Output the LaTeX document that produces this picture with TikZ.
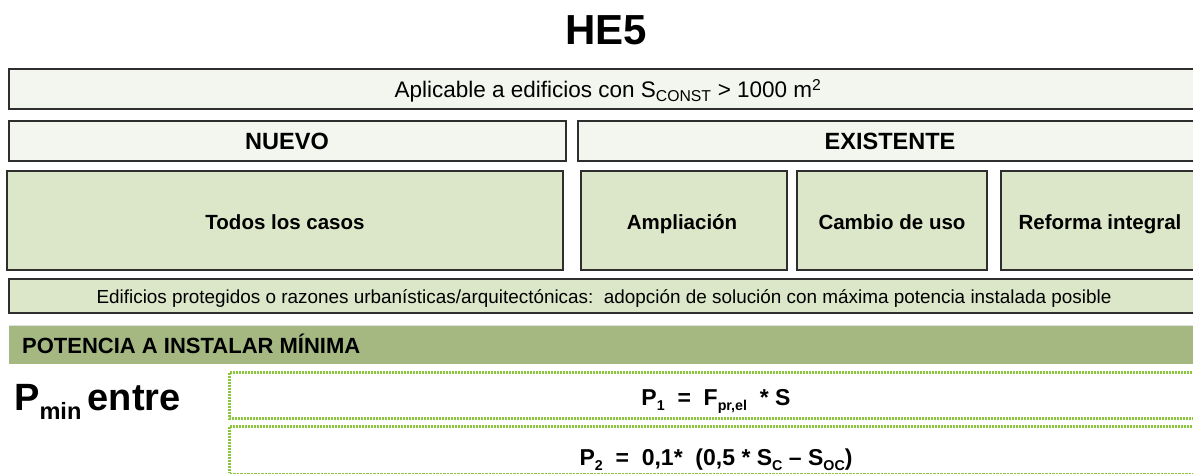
\documentclass[tikz,border=0pt]{standalone}
\usepackage{fontspec}
\setmainfont{Liberation Sans}
\definecolor{cream}{HTML}{F3F6EE}
\definecolor{lgreen}{HTML}{DCE6C8}
\definecolor{band}{HTML}{A5B882}
\definecolor{dotg}{HTML}{8CC63F}
\definecolor{edge}{HTML}{2E2E2E}
\newcommand{\smsub}[1]{\raisebox{-0.25em}{\fontsize{0.62em}{0.62em}\selectfont #1}}
\begin{document}
\begin{tikzpicture}[x=1pt,y=-1pt,
  box/.style={draw=edge,line width=1.3pt},
  creambox/.style={box,fill=cream},
  greenbox/.style={box,fill=lgreen},
  dotline/.style={draw=dotg,line width=3pt,dash pattern=on 2pt off 1pt},
  thindot/.style={draw=dotg,line width=1.3pt,dash pattern=on 2.5pt off 1pt},
  lab/.style={inner sep=0pt,anchor=base}]
\useasboundingbox (0,0) rectangle (1193,476);
\begin{scope}
\clip (0,0) rectangle (1193,476);
% title
\node[lab,font=\fontsize{42}{42}\selectfont\bfseries] (title) at (606,45) {HE5};
% top box
\draw[creambox] (9,69) rectangle (1210,109);
\node[lab,font=\fontsize{22.5}{24}\selectfont] (apl) at (608,98) {Aplicable a edificios con S\textsubscript{CONST} > 1000 m\textsuperscript{2}};
% nuevo / existente
\draw[creambox] (9,121) rectangle (566,161);
\node[lab,font=\fontsize{23.5}{24}\selectfont\bfseries] (nuevo) at (287,149) {NUEVO};
\draw[creambox] (578,121) rectangle (1210,161);
\node[lab,font=\fontsize{23.5}{24}\selectfont\bfseries] (exist) at (890,149) {EXISTENTE};
% cases
\draw[greenbox] (7,171) rectangle (563,270);
\node[lab,font=\fontsize{20.5}{22}\selectfont\bfseries] (todos) at (285,229) {Todos los casos};
\draw[greenbox] (581,171) rectangle (787,270);
\node[lab,font=\fontsize{20.5}{22}\selectfont\bfseries] (ampl) at (682,229) {Ampliación};
\draw[greenbox] (797,171) rectangle (987,270);
\node[lab,font=\fontsize{20.5}{22}\selectfont\bfseries] (cambio) at (892,229) {Cambio de uso};
\draw[greenbox] (1001,171) rectangle (1210,270);
\node[lab,font=\fontsize{20.5}{22}\selectfont\bfseries] (reforma) at (1100,229) {Reforma integral};
% protegidos
\draw[greenbox] (9,279) rectangle (1210,313);
\node[lab,font=\fontsize{18.9}{20}\selectfont] (prot) at (604,303) {Edificios protegidos o razones urbanísticas/arquitectónicas:\ \ adopción de solución con máxima potencia instalada posible};
% band
\fill[band] (9,325) rectangle (1210,364);
\draw[black!12,line width=1pt] (9,325) -- (1210,325);
\node[lab,anchor=base west,font=\fontsize{22}{24}\selectfont\bfseries] (pot) at (22,353) {POTENCIA A INSTALAR MÍNIMA};
% Pmin
\node[lab,anchor=base west,font=\fontsize{38}{38}\selectfont\bfseries] (pmin) at (14,410) {P\smsub{min}\,entre};
% P1 box
\draw[dotline] (1210,372) -- (229.5,372) -- (229.5,418) -- (1210,418);
\node[lab,font=\fontsize{23}{24}\selectfont\bfseries] (p1) at (716,405) {P\smsub{1}\ \ = \ F\smsub{pr,el} \ * S};
% P2 box
\draw[dotline] (1210,426) -- (229.5,426) -- (229.5,473);
\draw[thindot] (229.5,473.5) -- (1210,473.5);
\node[lab,font=\fontsize{23}{24}\selectfont\bfseries] (p2) at (716,465) {P\smsub{2} \ = \ 0,1* \ (0,5 * S\smsub{C} – S\smsub{OC})};
\end{scope}
\end{tikzpicture}
\end{document}
